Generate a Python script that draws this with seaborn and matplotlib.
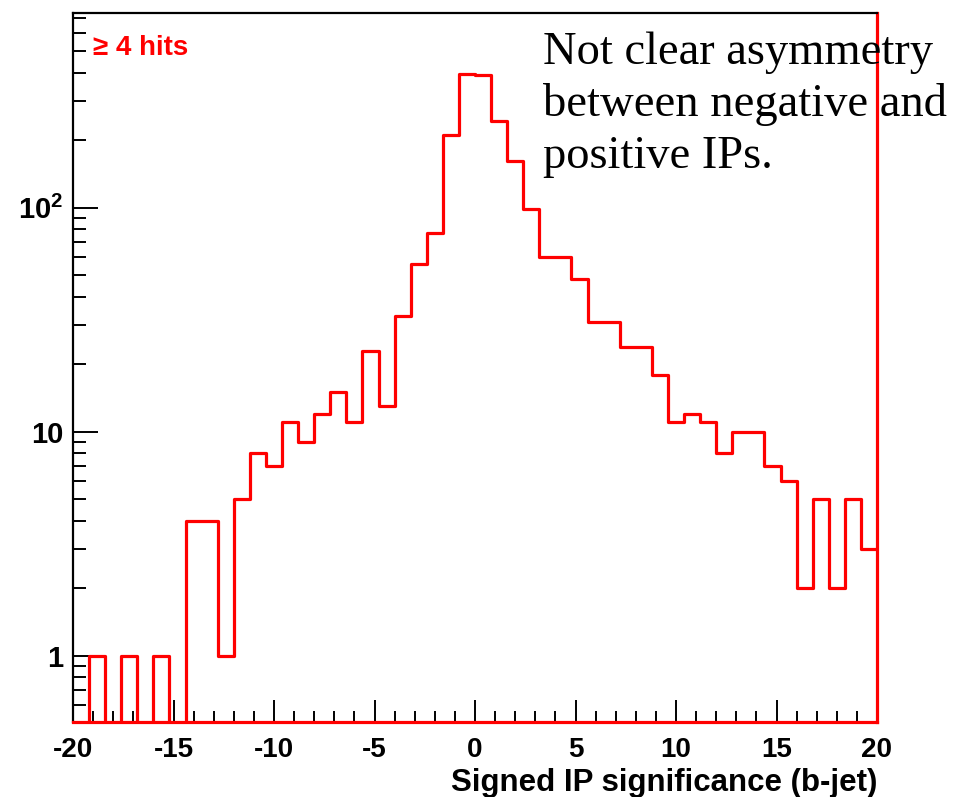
import numpy as np
import pandas as pd
import matplotlib
matplotlib.use("Agg")
import matplotlib.pyplot as plt
from matplotlib.ticker import FixedLocator, FixedFormatter, MultipleLocator, LogLocator, NullFormatter
import seaborn as sns

# Signed impact-parameter significance, 50 bins from -20 to 20 (width 0.8)
x_range = (-20, 20)
n_bins = 50
counts = [
    0, 1, 0, 1, 0, 1, 0, 4, 4, 1,
    5, 8, 7, 11, 9, 12, 15, 11, 23, 13,
    33, 56, 77, 211, 394, 390, 245, 162, 99, 60,
    60, 48, 31, 31, 24, 24, 18, 11, 12, 11,
    8, 10, 10, 7, 6, 2, 5, 2, 5, 3,
]
y_tick_values = [1, 10, 100]
y_tick_labels = ["1", "10", r"$\mathbf{10^{2}}$"]
x_tick_labels = ["-20", "-15", "-10", "-5", "0", "5", "10", "15", "20"]
x_label = "Signed IP significance (b-jet)"
selection_label = "\u2265 4 hits"
comment_text = "Not clear asymmetry\nbetween negative and\npositive IPs."

bin_edges = np.linspace(x_range[0], x_range[1], n_bins + 1)
bin_centers = 0.5 * (bin_edges[:-1] + bin_edges[1:])
df = pd.DataFrame({"ip_sig": bin_centers, "n": counts})

sns.set_theme(style="white")
plt.rcParams["font.family"] = ["Liberation Sans", "DejaVu Sans"]
plt.rcParams["mathtext.fontset"] = "custom"
plt.rcParams["mathtext.bf"] = "Liberation Sans:bold"
plt.rcParams["mathtext.rm"] = "Liberation Sans"
plt.rcParams["text.color"] = "black"
plt.rcParams["axes.labelcolor"] = "black"
plt.rcParams["xtick.color"] = "black"
plt.rcParams["ytick.color"] = "black"

fig = plt.figure(figsize=(9.67, 7.97), dpi=100)
ax = fig.add_axes([73 / 967, 1 - 722 / 797, (877 - 73) / 967, (722 - 13) / 797])

sns.histplot(data=df, x="ip_sig", weights="n", bins=n_bins, binrange=x_range,
             element="step", fill=False, color="#ff0000", linewidth=2.3, ax=ax)

ax.set_yscale("log")
ax.set_xlim(*x_range)
ax.set_ylim(0.506, 740)

# axis ticks, drawn inward on left and bottom only
ax.xaxis.set_major_locator(FixedLocator(np.arange(-20, 21, 5)))
ax.xaxis.set_major_formatter(FixedFormatter(x_tick_labels))
ax.xaxis.set_minor_locator(MultipleLocator(1))
ax.yaxis.set_major_locator(FixedLocator(y_tick_values))
ax.yaxis.set_major_formatter(FixedFormatter(y_tick_labels))
ax.yaxis.set_minor_locator(LogLocator(base=10, subs=np.arange(2, 10)))
ax.yaxis.set_minor_formatter(NullFormatter())

ax.tick_params(axis="x", which="major", direction="in", length=16, width=1.4,
               color="black", labelcolor="black", labelsize=20, pad=10.5,
               bottom=True, top=False)
ax.tick_params(axis="x", which="minor", direction="in", length=8, width=1.4,
               color="black", bottom=True, top=False)
ax.tick_params(axis="y", which="major", direction="in", length=18, width=1.4,
               color="black", labelcolor="black", labelsize=21, pad=7,
               left=True, right=False)
ax.tick_params(axis="y", which="minor", direction="in", length=9, width=1.4,
               color="black", left=True, right=False)
for lab in ax.get_xticklabels() + ax.get_yticklabels():
    lab.set_fontweight("bold")

for side in ["left", "top"]:
    ax.spines[side].set_color("black")
    ax.spines[side].set_linewidth(1.6)
for side in ["right", "bottom"]:
    ax.spines[side].set_color("#ff0000")
    ax.spines[side].set_linewidth(2.3)

# axis title right-aligned under the frame, near the bottom edge
ax.set_xlabel(x_label, fontsize=22.5, fontweight="bold", color="black")
ax.xaxis.label.set_horizontalalignment("right")
ax.xaxis.label.set_verticalalignment("baseline")
ax.xaxis.set_label_coords(1.0, -(790.5 - 722) / 709)
ax.set_ylabel("")

ax.text(0.025, 0.95, selection_label, transform=ax.transAxes, color="#ff0000",
        fontsize=20, fontweight="bold", va="center", ha="left")

fig.text(543 / 967, 1 - 32 / 797, comment_text, fontsize=33.5,
         family=["Liberation Serif", "DejaVu Serif"], color="black",
         va="top", ha="left", linespacing=1.27)

fig.savefig("out.png", dpi=100)
